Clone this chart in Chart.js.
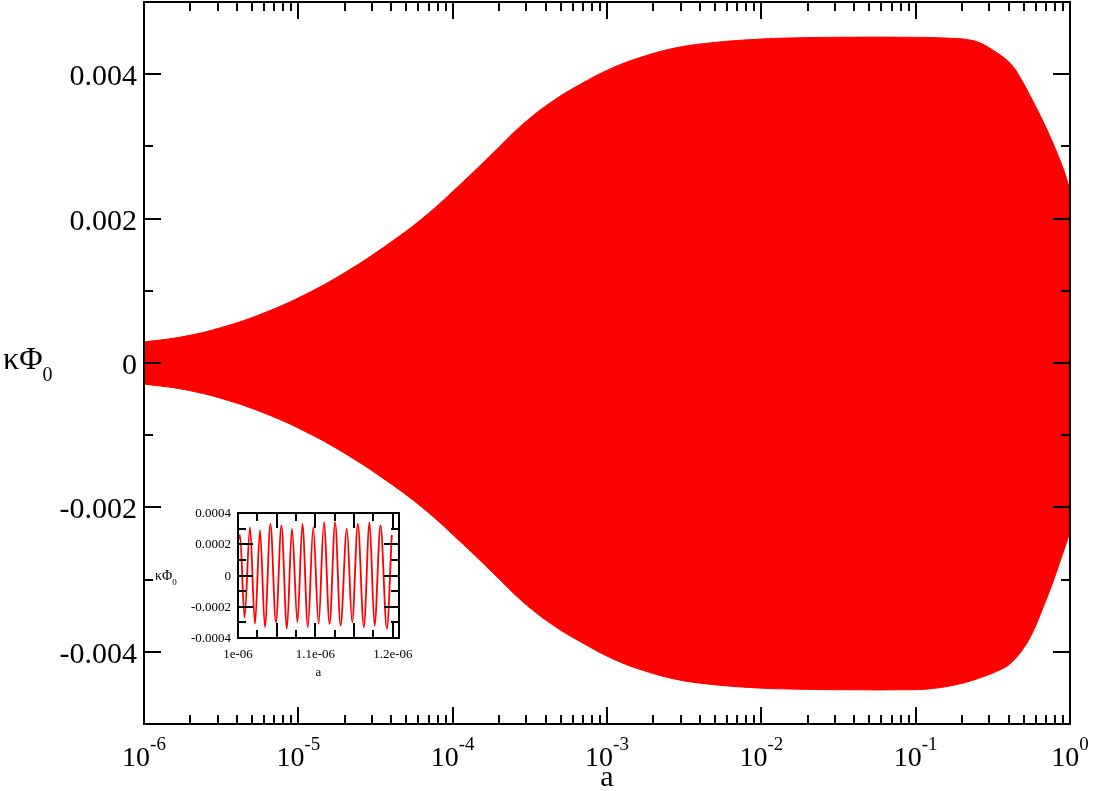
<!DOCTYPE html>
<html>
<head>
<meta charset="utf-8">
<script src="https://cdn.jsdelivr.net/npm/chart.js@4.4.0/dist/chart.umd.min.js"></script>
<style>
  body { margin: 0; background: #fff; }
  #wrap { position: relative; width: 1093px; height: 791px; }
  #main { position: absolute; left: 0; top: 0; }
  #inset { position: absolute; left: 145px; top: 500px; }
</style>
</head>
<body>
<div id="wrap">
  <canvas id="main" width="1093" height="791"></canvas>
  <canvas id="inset" width="280" height="190"></canvas>
</div>
<script>
// envelope of the oscillation in the main panel
const upperA = [1e-6, 1.82e-6, 3.3e-6, 5.99e-6, 1.09e-5, 1.98e-5, 3.59e-5, 6.52e-5, 1.18e-4, 1.85e-4, 2.9e-4, 4.54e-4, 7.1e-4,
  1.11e-3, 1.74e-3, 2.72e-3, 4.45e-3, 9.37e-3, 1.78e-2, 3.76e-2, 7.93e-2, 0.167, 0.243, 0.317, 0.409, 0.474, 0.575, 0.668, 0.776, 0.901, 1];
const upperV = [0.000291, 0.000368, 0.000502, 0.000693, 0.000941, 0.001246, 0.001606, 0.002021, 0.002519, 0.002920, 0.003322, 0.003640, 0.003889,
  0.004097, 0.004249, 0.004360, 0.004429, 0.004484, 0.004505, 0.004512, 0.004512, 0.004498, 0.004457, 0.004332, 0.004152, 0.003958, 0.003626, 0.003349, 0.003045, 0.002699, 0.002408];
const lowerA = [1e-6, 1.82e-6, 3.3e-6, 5.99e-6, 1.09e-5, 1.98e-5, 3.59e-5, 6.52e-5, 1.18e-4, 1.85e-4, 2.9e-4, 4.54e-4, 7.1e-4,
  1.11e-3, 1.74e-3, 2.72e-3, 4.45e-3, 9.37e-3, 1.78e-2, 3.76e-2, 7.93e-2, 0.124, 0.194, 0.273, 0.352, 0.409, 0.497, 0.575, 0.668, 0.776, 0.887, 1];
const lowerV = [-0.000291, -0.000368, -0.000502, -0.000693, -0.000941, -0.001246, -0.001606, -0.002021, -0.002519, -0.002920, -0.003322, -0.003640, -0.003889,
  -0.004105, -0.004262, -0.004375, -0.004445, -0.004500, -0.004518, -0.004526, -0.004526, -0.004512, -0.004443, -0.004346, -0.004249, -0.004166, -0.003958, -0.003723, -0.003391, -0.003031, -0.002671, -0.002339];

const yMajor = [-0.004, -0.002, 0, 0.002, 0.004];
const yLabels = ["-0.004", "-0.002", "0", "0.002", "0.004"];
const yMinor = [-0.003, -0.001, 0.001, 0.003];
const xDecades = [-6, -5, -4, -3, -2, -1, 0];

// inset: zoom on 1e-6 .. 1.2e-6, peaks and troughs (a in units of 1e-6)
const insetA = [1.0, 1.0026, 1.0084, 1.0155, 1.0219, 1.0284, 1.0348, 1.0419, 1.0490, 1.0561, 1.0632, 1.0697, 1.0768,
  1.0832, 1.0903, 1.0972, 1.1041, 1.1110, 1.1183, 1.1255, 1.1325, 1.1406, 1.1475, 1.1548, 1.1626, 1.1699, 1.1764,
  1.1841, 1.1923, 1.1987];
const insetV = [0.00022, 0.00026, -0.00027, 0.00031, -0.00031, 0.00029, -0.00033, 0.00033, -0.00030, 0.00032, -0.00034,
  0.00030, -0.00030, 0.00033, -0.00033, 0.00031, -0.00031, 0.00034, -0.00031, 0.00034, -0.00032, 0.00030, -0.00030,
  0.00033, -0.00033, 0.00034, -0.00032, 0.00032, -0.00034, 0.00026];
const insetYMajor = [-0.0004, -0.0002, 0, 0.0002, 0.0004];
const insetYLabels = ["-0.0004", "-0.0002", "0", "0.0002", "0.0004"];
const insetYMinor = [-0.0003, -0.0001, 0.0001, 0.0003];
const insetXMajor = [1.0, 1.05, 1.1, 1.15, 1.2];
const insetXMinor = [1.025, 1.075, 1.125, 1.175];
const insetXLabels = ["1e-06", "", "1.1e-06", "", "1.2e-06"];

const SERIF = '"Liberation Serif", "Times New Roman", serif';

function pts(xs, ys, k) {
  return xs.map((v, i) => ({ x: v * (k || 1), y: ys[i] }));
}

// frame + inward ticks on all four sides
function drawTicks(chart, xMaj, xMin, yMaj, yMin, big, small, lw) {
  const { ctx, chartArea: ca, scales: { x, y } } = chart;
  ctx.save();
  ctx.strokeStyle = '#000';
  ctx.lineWidth = lw;
  ctx.beginPath();
  const xt = (v, len) => {
    const p = Math.round(x.getPixelForValue(v));
    ctx.moveTo(p, ca.bottom); ctx.lineTo(p, ca.bottom - len);
    ctx.moveTo(p, ca.top); ctx.lineTo(p, ca.top + len);
  };
  const yt = (v, len) => {
    const p = Math.round(y.getPixelForValue(v));
    ctx.moveTo(ca.left, p); ctx.lineTo(ca.left + len, p);
    ctx.moveTo(ca.right, p); ctx.lineTo(ca.right - len, p);
  };
  xMaj.forEach(v => xt(v, big));
  xMin.forEach(v => xt(v, small));
  yMaj.forEach(v => yt(v, big));
  yMin.forEach(v => yt(v, small));
  ctx.stroke();
  ctx.strokeRect(ca.left, ca.top, ca.right - ca.left, ca.bottom - ca.top);
  ctx.restore();
}

const mainFrame = {
  id: 'mainFrame',
  afterDatasetsDraw(chart) {
    const { ctx, chartArea: ca, scales: { x, y } } = chart;
    const xMaj = xDecades.map(d => Math.pow(10, d));
    const xMin = [];
    xDecades.slice(0, -1).forEach(d => { for (let k = 2; k <= 9; k++) xMin.push(k * Math.pow(10, d)); });
    drawTicks(chart, xMaj, xMin, yMajor, yMinor, 17, 9, 2);

    ctx.save();
    ctx.fillStyle = '#000';
    // y tick labels
    ctx.font = '30px ' + SERIF;
    ctx.textAlign = 'right';
    ctx.textBaseline = 'alphabetic';
    yMajor.forEach((v, i) => ctx.fillText(yLabels[i], 137, y.getPixelForValue(v) + 11));
    // x tick labels 10^n
    ctx.textAlign = 'left';
    xDecades.forEach(d => {
      const p = x.getPixelForValue(Math.pow(10, d));
      ctx.font = '28px ' + SERIF;
      const w1 = ctx.measureText('10').width;
      ctx.font = '19px ' + SERIF;
      const w2 = ctx.measureText(String(d)).width;
      const s = p - (w1 + w2) / 2;
      ctx.font = '28px ' + SERIF;
      ctx.fillText('10', s, 766);
      ctx.font = '19px ' + SERIF;
      ctx.fillText(String(d), s + w1, 750);
    });
    // axis titles
    ctx.font = '30px ' + SERIF;
    ctx.textAlign = 'center';
    ctx.fillText('a', (ca.left + ca.right) / 2, 786);
    ctx.textAlign = 'left';
    ctx.font = '32px ' + SERIF;
    ctx.fillText('κΦ', 3, 369);
    const wk = ctx.measureText('κΦ').width;
    ctx.font = '20px ' + SERIF;
    ctx.fillText('0', 3 + wk, 381);
    ctx.restore();
  }
};

const insetFrame = {
  id: 'insetFrame',
  beforeDatasetsDraw(chart) {
    const { ctx, chartArea: ca } = chart;
    ctx.save();
    ctx.fillStyle = '#fff';
    ctx.fillRect(ca.left, ca.top, ca.right - ca.left, ca.bottom - ca.top);
    ctx.restore();
  },
  afterDatasetsDraw(chart) {
    const { ctx, chartArea: ca, scales: { x, y } } = chart;
    drawTicks(chart, insetXMajor.map(v => v * 1e-6), insetXMinor.map(v => v * 1e-6),
      insetYMajor, insetYMinor, 15, 8, 2);
    ctx.save();
    ctx.fillStyle = '#000';
    ctx.font = '13px ' + SERIF;
    ctx.textAlign = 'right';
    insetYMajor.forEach((v, i) => ctx.fillText(insetYLabels[i], ca.left - 7, y.getPixelForValue(v) + 4));
    ctx.textAlign = 'center';
    insetXMajor.forEach((v, i) => {
      if (insetXLabels[i]) ctx.fillText(insetXLabels[i], x.getPixelForValue(v * 1e-6), ca.bottom + 20);
    });
    ctx.fillText('a', (ca.left + ca.right) / 2, ca.bottom + 38);
    ctx.textAlign = 'left';
    ctx.font = '14px ' + SERIF;
    ctx.fillText('κΦ', 10, 80);
    const wk = ctx.measureText('κΦ').width;
    ctx.font = '9px ' + SERIF;
    ctx.fillText('0', 10 + wk, 85);
    ctx.restore();
  }
};

const envStyle = {
  borderColor: '#ff0000',
  backgroundColor: '#ff0000',
  borderWidth: 1,
  pointRadius: 0,
  fill: 'origin',
  tension: 0.4,
};

new Chart(document.getElementById('main').getContext('2d'), {
  type: 'line',
  data: {
    datasets: [
      Object.assign({ data: pts(upperA, upperV) }, envStyle),
      Object.assign({ data: pts(lowerA, lowerV) }, envStyle),
    ],
  },
  options: {
    responsive: false,
    animation: false,
    events: [],
    layout: { padding: { left: 144, right: 23, top: 2, bottom: 67 } },
    plugins: { legend: { display: false }, tooltip: { enabled: false } },
    scales: {
      x: { type: 'logarithmic', min: 1e-6, max: 1, display: false },
      y: { type: 'linear', min: -0.005, max: 0.005, display: false },
    },
  },
  plugins: [mainFrame],
});

new Chart(document.getElementById('inset').getContext('2d'), {
  type: 'line',
  data: {
    datasets: [
      {
        data: pts(insetA, insetV, 1e-6),
        borderColor: '#ff0000',
        borderWidth: 1.8,
        pointRadius: 0,
        fill: false,
        cubicInterpolationMode: 'monotone',
      },
    ],
  },
  options: {
    responsive: false,
    animation: false,
    events: [],
    layout: { padding: { left: 93, right: 26, top: 13, bottom: 52 } },
    plugins: { legend: { display: false }, tooltip: { enabled: false } },
    scales: {
      x: { type: 'linear', min: 1e-6, max: 1.208e-6, display: false },
      y: { type: 'linear', min: -0.0004, max: 0.0004, display: false },
    },
  },
  plugins: [insetFrame],
});
</script>
</body>
</html>
